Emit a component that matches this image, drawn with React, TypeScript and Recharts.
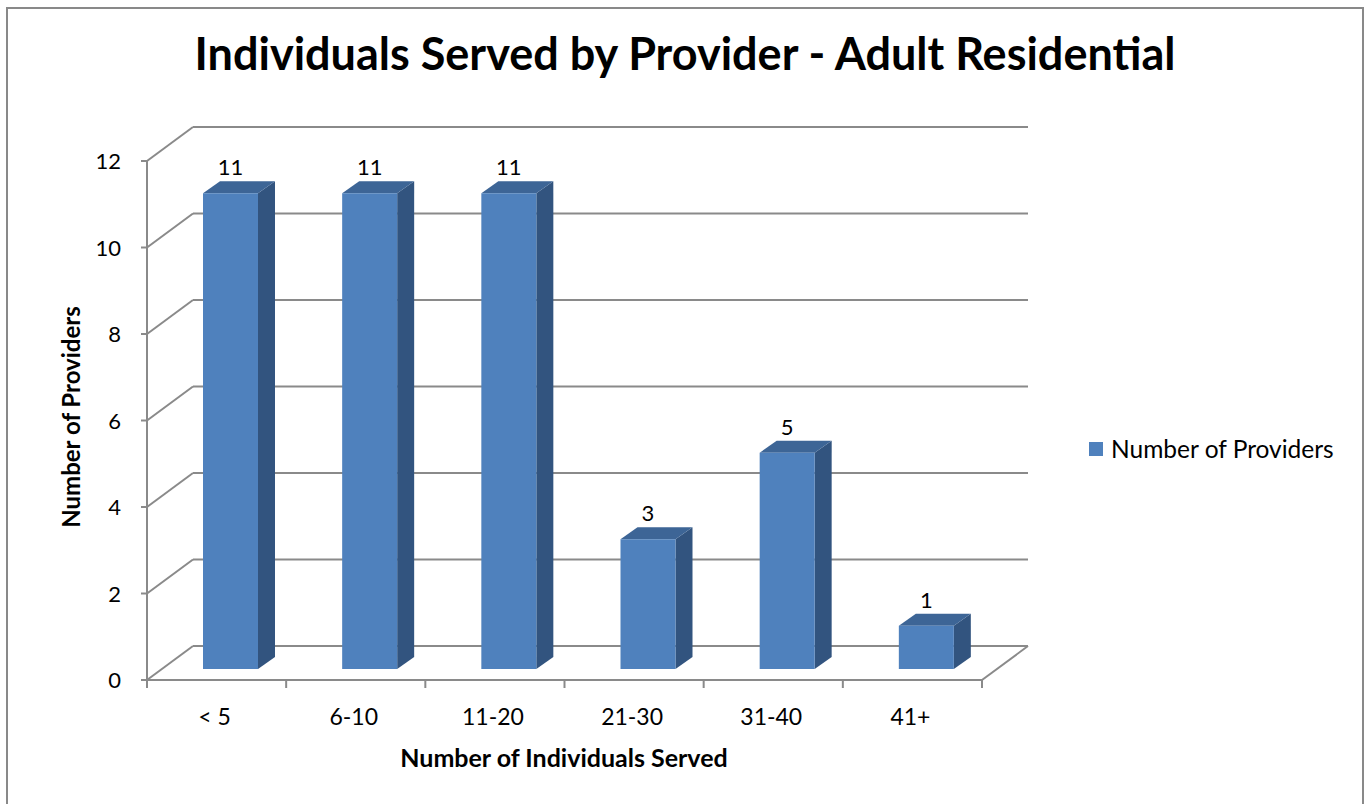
import { BarChart, Bar, XAxis, YAxis, CartesianGrid, Legend, LabelList, Label } from 'recharts';

const categories = ['< 5', '6-10', '11-20', '21-30', '31-40', '41+'];
const providerCounts = [11, 11, 11, 3, 5, 1];
const yTicks = [0, 2, 4, 6, 8, 10, 12];

const chartData = categories.map((range, i) => ({ range, providers: providerCounts[i] }));

const FONT = 'Lato, "Open Sans", sans-serif';
const FRONT = '#4F81BD';
const TOP = '#3D6596';
const SIDE = '#32547F';
const GRID = '#8A8A8A';

// 3D look: back wall offset and bar offset from the front plane
const WALL_DX = 46;
const WALL_DY = -34;
const BAR_DX = 14;
const BAR_DY = -11;
const DEPTH_X = 17;
const DEPTH_Y = -12;

const X_TICK_SIZE = 8;
const X_TICK_MARGIN = 21;

function Bar3D(props: any) {
    const { x, y, width, height } = props;
    if (!height || height <= 0) return null;
    const fx = x + BAR_DX;
    const fy = y + BAR_DY;
    const rx = fx + width;
    return (
        <g>
            <polygon
                points={`${rx},${fy} ${rx + DEPTH_X},${fy + DEPTH_Y} ${rx + DEPTH_X},${fy + height + DEPTH_Y} ${rx},${fy + height}`}
                fill={SIDE}
            />
            <polygon
                points={`${fx},${fy} ${fx + DEPTH_X},${fy + DEPTH_Y} ${rx + DEPTH_X},${fy + DEPTH_Y} ${rx},${fy}`}
                fill={TOP}
            />
            <rect x={fx} y={fy} width={width} height={height} fill={FRONT} />
        </g>
    );
}

function WallLine(props: any) {
    const { x1, y1, x2, index } = props;
    return (
        <g key={`wall-${index}`}>
            <line x1={x1} y1={y1} x2={x1 + WALL_DX} y2={y1 + WALL_DY} stroke={GRID} strokeWidth={2} />
            <line x1={x1 + WALL_DX} y1={y1 + WALL_DY} x2={x2 + WALL_DX} y2={y1 + WALL_DY} stroke={GRID} strokeWidth={2} />
            {index === 0 && (
                <line x1={x2} y1={y1} x2={x2 + WALL_DX} y2={y1 + WALL_DY} stroke={GRID} strokeWidth={2} />
            )}
        </g>
    );
}

function CategoryTick(props: any) {
    const { x, y, payload, index } = props;
    const half = payload?.offset ?? 69.6;
    const axisY = y - X_TICK_SIZE - X_TICK_MARGIN;
    const last = index === categories.length - 1;
    return (
        <g>
            <line x1={x - half} y1={axisY} x2={x - half} y2={axisY + X_TICK_SIZE} stroke={GRID} strokeWidth={2} />
            {last && (
                <line x1={x + half} y1={axisY} x2={x + half} y2={axisY + X_TICK_SIZE} stroke={GRID} strokeWidth={2} />
            )}
            <text x={x - 2} y={y} dy="0.71em" textAnchor="middle" fontSize={23} fill="#000" fontFamily={FONT}>
                {payload.value}
            </text>
        </g>
    );
}

function ValueTick(props: any) {
    const { x, y, payload } = props;
    return (
        <text x={x} y={y} dy="0.38em" textAnchor="end" fontSize={22} fill="#000" fontFamily={FONT}>
            {payload.value}
        </text>
    );
}

function ValueLabel(props: any) {
    const { x, y, width, value } = props;
    return (
        <text x={x + width / 2 + BAR_DX} y={y - 29} textAnchor="middle" fontSize={22} fill="#000" fontFamily={FONT}>
            {value}
        </text>
    );
}

export default function App() {
    return (
        <div
            style={{
                position: 'absolute',
                left: 6,
                top: 7,
                width: 1358,
                height: 797,
                border: '2px solid #898989',
                borderBottom: 'none',
                boxSizing: 'border-box',
                background: '#fff',
                fontFamily: FONT,
                overflow: 'hidden',
            }}
        >
            <div
                style={{
                    position: 'absolute',
                    left: 0,
                    width: 1354,
                    top: 22,
                    textAlign: 'center',
                    fontSize: 45,
                    fontWeight: 700,
                    lineHeight: 1,
                    color: '#000',
                    zIndex: 2,
                }}
            >
                Individuals Served by Provider - Adult Residential
            </div>
            <BarChart
                width={1354}
                height={795}
                data={chartData}
                margin={{ top: 152, right: 380, left: 0, bottom: 44 }}
            >
                <CartesianGrid vertical={false} horizontal={(p: any) => <WallLine {...p} />} />
                <XAxis
                    dataKey="range"
                    height={80}
                    tickLine={false}
                    tickSize={X_TICK_SIZE}
                    tickMargin={X_TICK_MARGIN}
                    axisLine={{ stroke: GRID, strokeWidth: 2 }}
                    tick={<CategoryTick />}
                    interval={0}
                >
                    <Label
                        content={() => (
                            <text x={556} y={758} textAnchor="middle" fontSize={25} fontWeight={700} fill="#000" fontFamily={FONT}>
                                Number of Individuals Served
                            </text>
                        )}
                    />
                </XAxis>
                <YAxis
                    width={139}
                    domain={[0, 12]}
                    ticks={yTicks}
                    interval={0}
                    tickSize={6}
                    tickMargin={20}
                    tick={<ValueTick />}
                    tickLine={{ stroke: GRID, strokeWidth: 2 }}
                    axisLine={{ stroke: GRID, strokeWidth: 2 }}
                >
                    <Label
                        content={() => (
                            <text
                                x={62}
                                y={408}
                                transform="rotate(-90 62 408)"
                                textAnchor="middle"
                                dominantBaseline="central"
                                fontSize={24}
                                fontWeight={700}
                                fill="#000"
                                fontFamily={FONT}
                            >
                                Number of Providers
                            </text>
                        )}
                    />
                </YAxis>
                <Legend
                    layout="horizontal"
                    align="center"
                    verticalAlign="middle"
                    wrapperStyle={{ left: 1081, top: 425, width: 270 }}
                    content={() => (
                        <div style={{ display: 'flex', alignItems: 'center', fontSize: 24.5, lineHeight: '30px', color: '#000', fontFamily: FONT }}>
                            <span style={{ width: 14, height: 14, background: FRONT, marginRight: 8, display: 'inline-block' }} />
                            <span>Number of Providers</span>
                        </div>
                    )}
                />
                <Bar dataKey="providers" name="Number of Providers" barSize={55} shape={<Bar3D />} isAnimationActive={false}>
                    <LabelList dataKey="providers" content={<ValueLabel />} />
                </Bar>
            </BarChart>
        </div>
    );
}
